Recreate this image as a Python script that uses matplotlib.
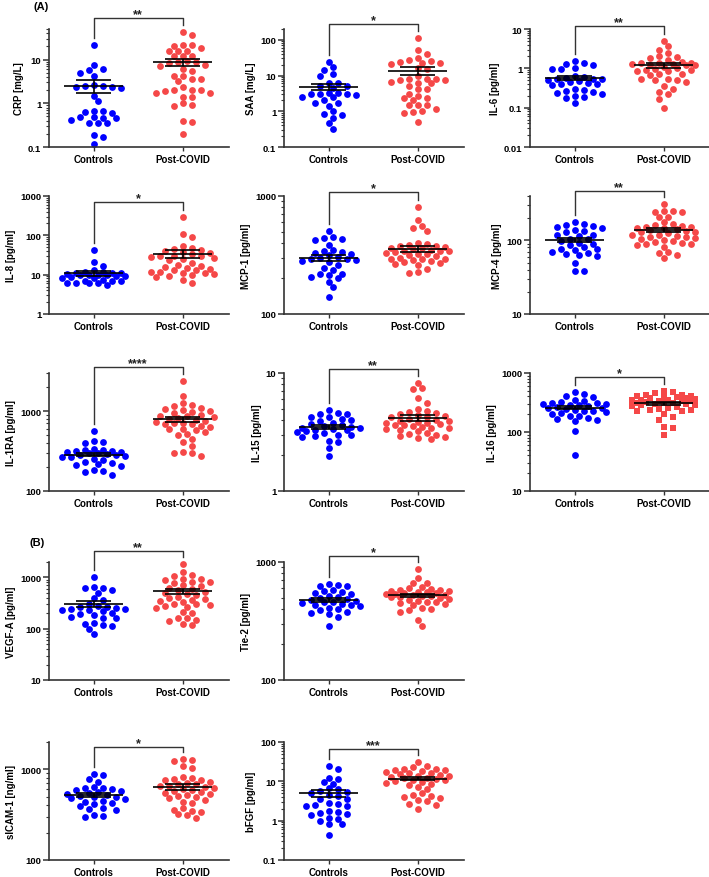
import numpy as np
import matplotlib
matplotlib.use('Agg')
import matplotlib.pyplot as plt
from matplotlib.ticker import LogLocator, FuncFormatter, NullFormatter
from matplotlib.transforms import blended_transform_factory

plt.rcParams['font.family'] = ['Liberation Sans', 'DejaVu Sans']
plt.rcParams['font.weight'] = 'bold'

groups = ['Controls', 'Post-COVID']

# values (estimated)
crp_ctrl = [22, 7.5, 6.0, 5.8, 5.0, 4.1, 2.6, 2.5, 2.3, 2.2, 2.5, 2.4, 1.5, 1.1, 0.65, 0.68, 0.6,
            0.62, 0.48, 0.45, 0.45, 0.48, 0.42, 0.35, 0.36, 0.35, 0.19, 0.17, 0.115]
crp_post = [42, 36, 22, 22, 20, 18, 16, 15.5, 15.5, 12, 12, 12, 9.5, 9, 9, 8.5, 7.5, 7.2, 6, 5.5,
            4.3, 4.2, 3.6, 3.5, 3.2, 2.3, 2.0, 2.0, 2.0, 1.95, 1.7, 1.7, 1.4, 1.4, 1.0, 0.92, 0.85,
            0.38, 0.39, 0.2]
saa_ctrl = [24, 17, 14, 11, 10, 6.3, 6.0, 5.0, 5.0, 4.5, 3.1, 3.2, 3.2, 3.1, 3.1, 2.9, 2.5, 2.5,
            2.0, 1.65, 1.7, 1.4, 1.0, 0.8, 0.85, 0.65, 0.48, 0.32]
saa_post = [113, 51, 39, 31, 27, 26, 24, 22, 21, 22, 16, 15, 9.5, 8.2, 8, 8.2, 7.6, 7.4, 6.4, 6.3,
            6, 5, 4.1, 4.1, 3.1, 2.7, 2.4, 2.3, 2.0, 1.5, 1.5, 1.45, 1.15, 1.0, 0.96, 0.9, 0.5]
il6_ctrl = [1.5, 1.35, 1.3, 1.25, 1.0, 0.97, 0.97, 0.62, 0.6, 0.58, 0.55, 0.55, 0.55, 0.5, 0.48,
            0.45, 0.42, 0.4, 0.4, 0.38, 0.3, 0.28, 0.27, 0.25, 0.24, 0.22, 0.2, 0.19, 0.18, 0.13]
il6_post = [5.1, 3.7, 2.9, 2.45, 2.0, 1.9, 1.8, 1.6, 1.45, 1.4, 1.4, 1.35, 1.3, 1.3, 1.25, 1.2,
            1.2, 1.1, 1.0, 0.95, 0.9, 0.9, 0.88, 0.85, 0.7, 0.7, 0.68, 0.55, 0.55, 0.52, 0.5, 0.45,
            0.36, 0.3, 0.25, 0.22, 0.17, 0.1]
il8_ctrl = [42, 21, 17, 13, 12, 11.5, 11, 11, 11, 10.5, 10, 10, 10, 10, 9.5, 9, 8.5, 8, 8, 7.5, 7,
            7, 6.8, 6.3, 6, 6, 6, 5.5]
il8_post = [290, 105, 90, 55, 48, 45, 42, 40, 38, 35, 33, 30, 30, 29, 28, 27, 25, 23, 20, 18, 17,
            16, 15, 14, 13, 13, 12, 12, 11, 11, 10.5, 10, 9, 8.5, 7.5, 6]
mcp1_ctrl = [505, 450, 440, 430, 420, 385, 350, 345, 335, 330, 320, 315, 305, 300, 295, 290, 285,
             280, 275, 260, 245, 235, 220, 218, 215, 205, 200, 188, 170, 140]
mcp1_post = [800, 620, 560, 540, 510, 400, 390, 385, 380, 375, 370, 365, 360, 355, 350, 345, 345,
             340, 335, 330, 325, 320, 315, 310, 300, 295, 290, 290, 285, 280, 275, 270, 265, 260,
             240, 225, 222]
mcp4_ctrl = [177, 165, 160, 155, 150, 148, 140, 134, 130, 120, 117, 115, 105, 103, 98, 93, 88, 86,
             80, 77, 76, 74, 70, 68, 65, 63, 61, 49, 38.5, 38]
mcp4_post = [307, 250, 248, 245, 240, 210, 205, 177, 168, 160, 155, 153, 150, 148, 145, 143, 138,
             134, 130, 128, 124, 120, 118, 115, 112, 110, 108, 105, 100, 98, 95, 92, 90, 88, 86,
             81, 70, 68, 63, 57]
il1ra_ctrl = [560, 420, 410, 400, 340, 330, 325, 320, 315, 310, 305, 300, 295, 290, 285, 280, 275,
              270, 265, 255, 245, 230, 225, 215, 210, 205, 185, 180, 175, 160]
il1ra_post = [2350, 1530, 1250, 1180, 1150, 1100, 1050, 1020, 1000, 980, 950, 900, 880, 860, 850,
              820, 800, 780, 760, 740, 720, 700, 690, 680, 660, 640, 600, 590, 580, 545, 520, 505,
              450, 410, 370, 310, 300, 295, 275]
il15_ctrl = [4.9, 4.6, 4.5, 4.5, 4.2, 4.2, 4.1, 4.0, 3.9, 3.8, 3.7, 3.6, 3.55, 3.5, 3.45, 3.4,
             3.35, 3.3, 3.3, 3.2, 3.15, 3.1, 3.0, 3.0, 2.9, 2.85, 2.65, 2.6, 2.3, 1.97]
il15_post = [8.3, 7.4, 7.3, 6.1, 5.6, 5.0, 4.8, 4.7, 4.6, 4.5, 4.4, 4.3, 4.2, 4.2, 4.1, 4.0, 3.95,
             3.9, 3.85, 3.8, 3.75, 3.7, 3.65, 3.6, 3.55, 3.5, 3.45, 3.4, 3.35, 3.3, 3.2, 3.1, 3.05,
             3.0, 2.9, 2.85, 2.8, 2.75]
il16_ctrl = [470, 440, 410, 385, 345, 335, 325, 310, 305, 300, 295, 290, 285, 280, 270, 260, 255,
             250, 240, 230, 225, 220, 210, 205, 190, 185, 175, 165, 160, 155, 105, 41]
il16_post = [500, 470, 450, 430, 420, 410, 400, 390, 385, 375, 370, 360, 355, 350, 345, 340, 335,
             330, 320, 315, 310, 305, 300, 295, 290, 285, 280, 270, 260, 250, 240, 235, 230, 225,
             200, 180, 160, 122, 115, 88]
vegfa_ctrl = [1030, 650, 630, 620, 560, 500, 390, 370, 310, 280, 270, 260, 250, 245, 240, 235, 230,
              225, 200, 190, 185, 170, 165, 160, 130, 125, 120, 115, 100, 78]
vegfa_post = [1850, 1250, 1100, 1050, 950, 930, 900, 820, 800, 780, 700, 680, 620, 600, 560, 520,
              500, 480, 460, 420, 400, 380, 370, 350, 330, 310, 300, 290, 280, 270, 255, 210, 200,
              165, 160, 150, 140, 125, 120]
tie2_ctrl = [650, 640, 630, 620, 580, 570, 560, 550, 540, 520, 510, 500, 490, 480, 470, 460, 455,
             450, 440, 435, 430, 420, 410, 400, 390, 380, 370, 360, 340, 285]
tie2_post = [880, 730, 670, 660, 610, 600, 590, 580, 575, 570, 565, 560, 555, 550, 545, 540, 535,
             530, 525, 520, 515, 510, 505, 500, 490, 480, 470, 460, 455, 450, 440, 430, 410, 400,
             390, 380, 320, 285]
sicam1_ctrl = [880, 870, 780, 720, 640, 630, 620, 600, 590, 570, 560, 550, 540, 520, 510, 500, 490,
               480, 470, 450, 440, 420, 410, 390, 370, 365, 360, 310, 305, 295]
sicam1_post = [1300, 1270, 1230, 1100, 1030, 820, 800, 780, 770, 760, 720, 700, 690, 680, 660, 650,
               640, 620, 600, 590, 580, 560, 550, 540, 520, 510, 500, 480, 460, 440, 420, 370, 360,
               350, 340, 320, 310, 290]
bfgf_ctrl = [24, 21, 12.5, 11.5, 9.5, 8.7, 6.7, 6.5, 5.8, 5.5, 5.2, 4.5, 4.2, 3.6, 3.5, 2.8, 2.7,
             2.5, 2.4, 2.3, 1.8, 1.7, 1.6, 1.5, 1.4, 1.2, 1.1, 1.0, 0.82, 0.8, 0.44]
bfgf_post = [31, 24, 23, 21, 20, 19.5, 19, 18, 17, 16.5, 16, 15, 14.5, 14, 13.5, 13, 12.5, 12, 11.5,
             11, 10.5, 10, 9.5, 9, 8.5, 8, 7, 6.5, 5, 4.5, 4.2, 4, 3.8, 3.3, 3.2, 2.6, 2.5, 2.0]

# label, controls, post, stars, ylim, row, col, bracket height (axes frac), post marker
panels = [
    ('CRP [mg/L]', crp_ctrl, crp_post, '**', (0.1, 50), 0, 0, 1.093, 'o'),
    ('SAA [mg/L]', saa_ctrl, saa_post, '*', (0.1, 200), 0, 1, 1.042, 'o'),
    ('IL-6 [pg/ml]', il6_ctrl, il6_post, '**', (0.01, 10), 0, 2, 1.025, 'o'),
    ('IL-8 [pg/ml]', il8_ctrl, il8_post, '*', (1, 1000), 1, 0, 0.949, 'o'),
    ('MCP-1 [pg/ml]', mcp1_ctrl, mcp1_post, '*', (100, 1000), 1, 1, 1.034, 'o'),
    ('MCP-4 [pg/ml]', mcp4_ctrl, mcp4_post, '**', (10, 400), 1, 2, 1.042, 'o'),
    ('IL-1RA [pg/ml]', il1ra_ctrl, il1ra_post, '****', (100, 3000), 2, 0, 1.051, 'o'),
    ('IL-15 [pg/ml]', il15_ctrl, il15_post, '**', (1, 10), 2, 1, 1.034, 'o'),
    ('IL-16 [pg/ml]', il16_ctrl, il16_post, '*', (10, 1000), 2, 2, 0.966, 's'),
    ('VEGF-A [pg/ml]', vegfa_ctrl, vegfa_post, '**', (10, 2000), 3, 0, 1.093, 'o'),
    ('Tie-2 [pg/ml]', tie2_ctrl, tie2_post, '*', (100, 1000), 3, 1, 1.051, 'o'),
    ('sICAM-1 [ng/ml]', sicam1_ctrl, sicam1_post, '*', (100, 2000), 4, 0, 0.958, 'o'),
    ('bFGF [pg/ml]', bfgf_ctrl, bfgf_post, '***', (0.1, 100), 4, 1, 0.941, 'o'),
]

W, H = 709, 878
col_left = [49, 284, 530]
row_top = [30, 197, 374, 563, 743]
ax_w, ax_h = 180, 118
blue = '#0000ff'
red = '#f54848'
axis_col = '#333333'

fig = plt.figure(figsize=(W / 100, H / 100), dpi=100)


def swarm_x(ax, center, vals, step=9.0, mind=6.3, maxk=7):
    # simple beeswarm: offsets on a half-step grid, limited width
    vals = np.asarray(vals, float)
    pts = ax.transData.transform(np.column_stack([np.full(len(vals), center), vals]))
    ypx = pts[:, 1]
    x0 = pts[0, 0]
    cands = [0.0]
    for k in range(1, maxk + 1):
        cands += [k * step / 2, -k * step / 2]
    placed = []
    offs = np.zeros(len(vals))
    for i in np.argsort(-ypx):
        best, bestd = None, -1
        for cx in cands:
            d = min([np.hypot(cx - px, ypx[i] - py) for px, py in placed] or [99])
            if d >= mind:
                best = cx
                break
            if d > bestd:
                best, bestd = cx, d
        placed.append((best, ypx[i]))
        offs[i] = best
    inv = ax.transData.inverted()
    return inv.transform(np.column_stack([x0 + offs, ypx]))[:, 0]


for label, ctrl, post, stars, ylim, r, c, bh, pmark in panels:
    left = col_left[c] / W
    bottom = 1 - (row_top[r] + ax_h) / H
    ax = fig.add_axes([left, bottom, ax_w / W, ax_h / H])
    ax.set_yscale('log')
    ax.set_ylim(*ylim)
    ax.set_xlim(-0.5, 1.52)

    for spine in ['top', 'right']:
        ax.spines[spine].set_visible(False)
    for spine in ['left', 'bottom']:
        ax.spines[spine].set_linewidth(1.2)
        ax.spines[spine].set_color(axis_col)

    ax.yaxis.set_major_locator(LogLocator(base=10, numticks=10))
    ax.yaxis.set_minor_locator(LogLocator(base=10, subs=np.arange(2, 10), numticks=10))
    ax.yaxis.set_major_formatter(FuncFormatter(lambda v, p: '%g' % v))
    ax.yaxis.set_minor_formatter(NullFormatter())
    ax.tick_params(axis='y', which='major', length=4, width=1.1, color=axis_col,
                   labelsize=6.8, pad=1.5)
    ax.tick_params(axis='y', which='minor', length=2.3, width=0.8, color=axis_col)
    ax.set_xticks([0, 1])
    ax.set_xticklabels(groups, fontsize=7, fontweight='bold')
    ax.tick_params(axis='x', length=3, width=1.0, color=axis_col, pad=2)
    for t in ax.get_yticklabels():
        t.set_fontweight('bold')
    ax.set_ylabel(label, fontsize=7, fontweight='bold', labelpad=3)

    for gx, vals, col, mk in [(0, ctrl, blue, 'o'), (1, post, red, pmark)]:
        xs = swarm_x(ax, gx, vals)
        ax.scatter(xs, vals, s=24 if mk == 'o' else 20, marker=mk, color=col,
                   linewidths=0, zorder=2, clip_on=False)
        v = np.asarray(vals, float)
        m = v.mean()
        sem = v.std(ddof=1) / np.sqrt(len(v))
        ax.hlines(m, gx - 0.33, gx + 0.33, color='black', lw=1.2, zorder=3)
        ax.hlines([m - sem, m + sem], gx - 0.2, gx + 0.2, color='black', lw=1.2, zorder=3)
        ax.vlines(gx, m - sem, m + sem, color='black', lw=1.2, zorder=3)

    # significance bracket
    tr = blended_transform_factory(ax.transData, ax.transAxes)
    inv = ax.transAxes.inverted()
    ends = []
    for gx, vals in [(0, ctrl), (1, post)]:
        yfrac = inv.transform(ax.transData.transform((gx, max(vals))))[1]
        ends.append(min(yfrac + 7 / ax_h, bh - 0.03))
    ax.plot([0, 0, 1, 1], [ends[0], bh, bh, ends[1]], color=axis_col, lw=1.0,
            transform=tr, clip_on=False)
    ax.text(0.5, bh + 0.01, stars, transform=tr, ha='center', va='baseline',
            fontsize=9, fontweight='bold', color='#222222')

fig.text(33 / W, 1 - 7 / H, '(A)', fontsize=8, fontweight='bold', va='center', ha='left')
fig.text(30 / W, 1 - 543 / H, '(B)', fontsize=8, fontweight='bold', va='center', ha='left')

fig.savefig('out.png', dpi=100)
